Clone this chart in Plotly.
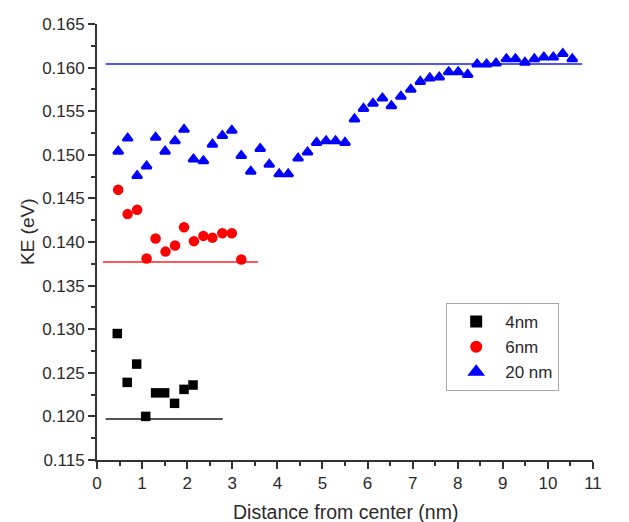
import plotly.graph_objects as go

# ---- data ----
x_4nm = [0.45, 0.67, 0.88, 1.08, 1.30, 1.50, 1.72, 1.93, 2.13]
y_4nm = [0.1295, 0.1239, 0.1260, 0.1200, 0.1227, 0.1227, 0.1215, 0.1231, 0.1236]

x_6nm = [0.47, 0.68, 0.89, 1.10, 1.30, 1.52, 1.73, 1.93, 2.15, 2.36, 2.56, 2.78, 2.99, 3.20]
y_6nm = [0.1460, 0.1432, 0.1437, 0.1381, 0.1404, 0.1389, 0.1396, 0.1417, 0.1401,
         0.1407, 0.1405, 0.1410, 0.1410, 0.1380]

x_20nm = [0.47, 0.68, 0.89, 1.10, 1.30, 1.51, 1.73, 1.93, 2.14, 2.36, 2.56, 2.78,
          2.99, 3.20, 3.41, 3.62, 3.82, 4.04, 4.24, 4.46, 4.67, 4.87, 5.08, 5.29,
          5.50, 5.71, 5.91, 6.12, 6.33, 6.53, 6.74, 6.96, 7.17, 7.38, 7.59, 7.80,
          8.01, 8.22, 8.43, 8.64, 8.85, 9.08, 9.28, 9.49, 9.70, 9.91, 10.12, 10.33,
          10.54]
y_20nm = [0.1504, 0.1519, 0.1476, 0.1487, 0.1520, 0.1504, 0.1516, 0.1529, 0.1495,
          0.1493, 0.1512, 0.1522, 0.1528, 0.1499, 0.1481, 0.1507, 0.1489, 0.1478,
          0.1478, 0.1496, 0.1503, 0.1514, 0.1516, 0.1516, 0.1514, 0.1541, 0.1553,
          0.1559, 0.1565, 0.1556, 0.1567, 0.1575, 0.1584, 0.1588, 0.1589, 0.1595,
          0.1595, 0.1592, 0.1604, 0.1604, 0.1605, 0.1610, 0.1610, 0.1606, 0.1610,
          0.1612, 0.1612, 0.1616, 0.1610]

# reference (horizontal) levels and their x extents
line_4nm_x = [0.19, 2.79]
line_4nm_y = 0.1197
line_6nm_x = [0.13, 3.57]
line_6nm_y = 0.1377
line_20nm_x = [0.19, 10.76]
line_20nm_y = 0.1604

x_ticks = list(range(0, 12))
y_ticks = [0.115, 0.120, 0.125, 0.130, 0.135, 0.140, 0.145, 0.150, 0.155, 0.160, 0.165]

x_title = "Distance from center (nm)"
y_title = "KE (eV)"

FONT = "Liberation Sans, Arial, sans-serif"
TXT = "#2a2a2a"
AX = "#333333"

fig = go.Figure()

for lx, ly, col in [(line_4nm_x, line_4nm_y, "#1a1a1a"),
                    (line_6nm_x, line_6nm_y, "#ff2020"),
                    (line_20nm_x, line_20nm_y, "#1a1aff")]:
    fig.add_trace(go.Scatter(x=lx, y=[ly, ly], mode="lines",
                             line=dict(color=col, width=1.5),
                             showlegend=False, hoverinfo="skip"))

fig.add_trace(go.Scatter(x=x_4nm, y=y_4nm, mode="markers", name="4nm",
                         marker=dict(symbol="square", size=9.5, color="#000000")))
fig.add_trace(go.Scatter(x=x_6nm, y=y_6nm, mode="markers", name="6nm",
                         marker=dict(symbol="circle", size=10.5, color="#ff0000")))
fig.add_trace(go.Scatter(x=x_20nm, y=y_20nm, mode="markers", name="20 nm",
                         marker=dict(symbol="triangle-up", size=8.5, color="#0000ff",
                                     line=dict(color="#0000ff", width=2.4))))

fig.update_layout(
    width=629, height=522,
    margin=dict(l=97, r=36, t=24, b=62),
    paper_bgcolor="white", plot_bgcolor="white",
    font=dict(family=FONT, color=TXT, size=17),
    showlegend=True,
    legend=dict(x=0.704, y=0.36, xanchor="left", yanchor="top",
                bordercolor="#a8a8a8", borderwidth=1, bgcolor="white",
                font=dict(family=FONT, size=17, color=TXT),
                itemsizing="constant", itemwidth=48,
                entrywidth=114, entrywidthmode="pixels"),
    annotations=[
        dict(text=x_title, xref="paper", yref="paper", x=0.5, y=-0.1193,
             xanchor="center", yanchor="middle", showarrow=False,
             font=dict(size=19.5, color=TXT, family=FONT)),
        dict(text=y_title, xref="paper", yref="paper", x=-0.139, y=0.523,
             xanchor="center", yanchor="middle", showarrow=False, textangle=-90,
             font=dict(size=19, color=TXT, family=FONT)),
    ],
)

fig.update_xaxes(
    range=[0, 11], tickvals=x_ticks, ticktext=[str(v) for v in x_ticks],
    automargin=False,
    showgrid=False, zeroline=False, showline=True, linecolor=AX, linewidth=1.8,
    ticks="outside", ticklen=7, tickwidth=1.5, tickcolor=AX,
    minor=dict(dtick=0.5, ticks="outside", ticklen=4, tickwidth=1.5, tickcolor=AX, showgrid=False),
    tickfont=dict(size=17, color=TXT, family=FONT),
)
fig.update_yaxes(
    range=[0.115, 0.165], tickvals=y_ticks, ticktext=[f"{v:.3f}" for v in y_ticks],
    automargin=False,
    showgrid=False, zeroline=False, showline=True, linecolor=AX, linewidth=1.8,
    ticks="outside", ticklen=7, tickwidth=1.5, tickcolor=AX,
    minor=dict(dtick=0.0025, ticks="outside", ticklen=4, tickwidth=1.5, tickcolor=AX, showgrid=False),
    tickfont=dict(size=17, color=TXT, family=FONT),
)

fig.write_html("out.html")
